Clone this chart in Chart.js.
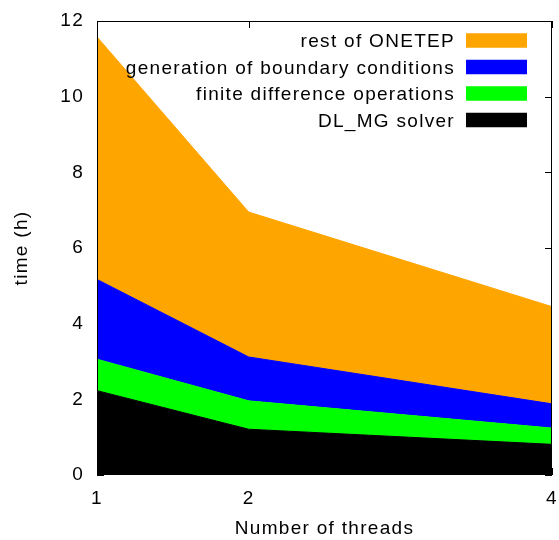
<!DOCTYPE html>
<html>
<head>
<meta charset="utf-8">
<script src="https://cdn.jsdelivr.net/npm/chart.js@4/dist/chart.umd.min.js"></script>
<style>
  html, body { margin: 0; padding: 0; background: #fff; }
  canvas { display: block; }
</style>
</head>
<body>
<canvas id="c" width="559" height="540"></canvas>
<script>
// Run time split by component, in hours, for each thread count
const threads = [1, 2, 4];
const xTicks = [1, 2, 4];
const yTicks = [0, 2, 4, 6, 8, 10, 12];
const seriesNames = ['DL_MG solver', 'finite difference operations', 'generation of boundary conditions', 'rest of ONETEP'];
const dlmgSolver = [2.23, 1.21, 0.81];
const finiteDifference = [0.83, 0.75, 0.43];
const boundaryConditions = [2.11, 1.16, 0.64];
const restOfOnetep = [6.41, 3.83, 2.57];
const seriesColors = ['#000000', '#00ff00', '#0000ff', '#ffa500'];

const FONT = "'Liberation Sans', Arial, Helvetica, sans-serif";
const SPACING = '1.3px';
Chart.defaults.font.family = FONT;
Chart.defaults.font.size = 19;
Chart.defaults.color = '#000';

const seriesValues = [dlmgSolver, finiteDifference, boundaryConditions, restOfOnetep];
const datasets = seriesValues.map((vals, i) => ({
  label: seriesNames[i],
  data: threads.map((t, j) => ({ x: t, y: vals[j] })),
  backgroundColor: seriesColors[i],
  borderColor: seriesColors[i],
  borderWidth: 1,
  pointRadius: 0,
  tension: 0,
  fill: i === 0 ? 'origin' : '-1'
}));

// slightly wider letter spacing for all canvas text
const letterSpacing = {
  id: 'letterSpacing',
  beforeUpdate(chart) { chart.ctx.letterSpacing = SPACING; },
  beforeLayout(chart) { chart.ctx.letterSpacing = SPACING; },
  beforeDraw(chart) { chart.ctx.letterSpacing = SPACING; }
};

// inward tick marks on all four sides, frame and key
const frame = {
  id: 'frame',
  beforeDatasetsDraw(chart) {
    const { ctx, chartArea: a, scales: { x, y } } = chart;
    const len = 7;
    ctx.save();
    ctx.strokeStyle = '#000';
    ctx.lineWidth = 1;
    ctx.beginPath();
    xTicks.forEach(v => {
      const px = Math.round(x.getPixelForValue(v)) + 0.5;
      ctx.moveTo(px, a.top); ctx.lineTo(px, a.top + len);
      ctx.moveTo(px, a.bottom); ctx.lineTo(px, a.bottom - len);
    });
    yTicks.forEach(v => {
      const py = Math.round(y.getPixelForValue(v)) + 0.5;
      ctx.moveTo(a.left, py); ctx.lineTo(a.left + len, py);
      ctx.moveTo(a.right, py); ctx.lineTo(a.right - len, py);
    });
    ctx.stroke();
    ctx.restore();
  },
  afterDatasetsDraw(chart) {
    const { ctx, chartArea: a } = chart;
    ctx.save();
    ctx.strokeStyle = '#000';
    ctx.lineWidth = 1;
    ctx.strokeRect(Math.round(a.left) + 0.5, Math.round(a.top) + 0.5,
                   Math.round(a.right - a.left) - 1, Math.round(a.bottom - a.top) - 1);

    // key, top series first
    ctx.letterSpacing = SPACING;
    ctx.font = '19px ' + FONT;
    ctx.textAlign = 'right';
    ctx.textBaseline = 'alphabetic';
    ctx.fillStyle = '#000';
    const swR = a.right - 25, swW = 61, swH = 14.5;
    const rowGap = 26.5, firstRow = a.top + 19.5;
    const order = [3, 2, 1, 0];
    order.forEach((k, r) => {
      const cy = firstRow + r * rowGap;
      ctx.fillStyle = seriesColors[k];
      ctx.fillRect(swR - swW, cy - swH / 2, swW, swH);
      ctx.fillStyle = '#000';
      ctx.fillText(seriesNames[k], swR - swW - 11, cy + 6.8);
    });
    ctx.restore();
  }
};

new Chart(document.getElementById('c'), {
  type: 'line',
  data: { datasets },
  options: {
    responsive: false,
    animation: false,
    events: [],
    layout: { padding: { left: 0, right: 7, top: 21, bottom: 0 } },
    plugins: { legend: { display: false }, tooltip: { enabled: false } },
    scales: {
      x: {
        type: 'linear',
        min: 1,
        max: 4,
        afterBuildTicks(s) { s.ticks = xTicks.map(v => ({ value: v })); },
        afterFit(s) { s.height = 65; s.paddingLeft = 0; s.paddingRight = 0; },
        grid: { display: false, drawTicks: false },
        border: { display: false },
        ticks: { maxRotation: 0, padding: 12, font: { size: 19 } },
        title: { display: true, text: 'Number of threads', font: { size: 19 }, padding: { top: 0, bottom: 0 } }
      },
      y: {
        type: 'linear',
        stacked: true,
        min: 0,
        max: 12,
        afterBuildTicks(s) { s.ticks = yTicks.map(v => ({ value: v })); },
        afterFit(s) { s.width = 97; s.paddingTop = 0; s.paddingBottom = 0; },
        grid: { display: false, drawTicks: false },
        border: { display: false },
        ticks: { padding: 13, font: { size: 19 } },
        title: { display: true, text: 'time (h)', font: { size: 19 }, padding: { top: 10, bottom: 10 } }
      }
    }
  },
  plugins: [letterSpacing, frame]
});
</script>
</body>
</html>
